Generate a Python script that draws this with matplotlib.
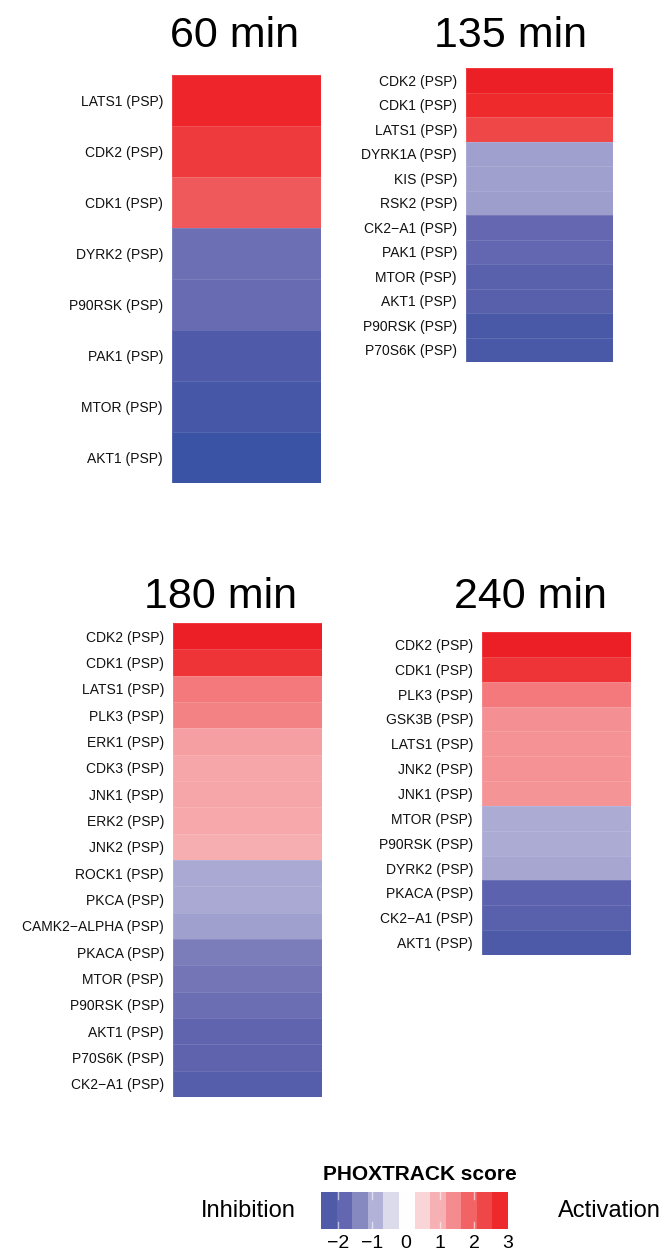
import numpy as np
import matplotlib
matplotlib.use("Agg")
import matplotlib.pyplot as plt
from matplotlib.colors import LinearSegmentedColormap, Normalize

plt.rcParams["font.family"] = ["Liberation Sans", "DejaVu Sans"]

# ---- data -------------------------------------------------------------
labels_60 = ["LATS1 (PSP)", "CDK2 (PSP)", "CDK1 (PSP)", "DYRK2 (PSP)",
             "P90RSK (PSP)", "PAK1 (PSP)", "MTOR (PSP)", "AKT1 (PSP)"]
scores_60 = [2.85, 2.5, 2.0, -1.68, -1.75, -2.27, -2.55, -2.85]

labels_135 = ["CDK2 (PSP)", "CDK1 (PSP)", "LATS1 (PSP)", "DYRK1A (PSP)",
              "KIS (PSP)", "RSK2 (PSP)", "CK2\u2212A1 (PSP)", "PAK1 (PSP)",
              "MTOR (PSP)", "AKT1 (PSP)", "P90RSK (PSP)", "P70S6K (PSP)"]
scores_135 = [2.95, 2.75, 2.3, -1.1, -1.1, -1.12, -1.8, -1.82,
              -2.05, -2.07, -2.4, -2.42]

labels_180 = ["CDK2 (PSP)", "CDK1 (PSP)", "LATS1 (PSP)", "PLK3 (PSP)",
              "ERK1 (PSP)", "CDK3 (PSP)", "JNK1 (PSP)", "ERK2 (PSP)",
              "JNK2 (PSP)", "ROCK1 (PSP)", "PKCA (PSP)",
              "CAMK2\u2212ALPHA (PSP)", "PKACA (PSP)", "MTOR (PSP)",
              "P90RSK (PSP)", "AKT1 (PSP)", "P70S6K (PSP)", "CK2\u2212A1 (PSP)"]
scores_180 = [2.95, 2.6, 1.6, 1.5, 1.15, 1.1, 1.08, 1.05, 0.98,
              -1.0, -1.0, -1.08, -1.5, -1.6, -1.7, -1.88, -1.9, -2.15]

labels_240 = ["CDK2 (PSP)", "CDK1 (PSP)", "PLK3 (PSP)", "GSK3B (PSP)",
              "LATS1 (PSP)", "JNK2 (PSP)", "JNK1 (PSP)", "MTOR (PSP)",
              "P90RSK (PSP)", "DYRK2 (PSP)", "PKACA (PSP)", "CK2\u2212A1 (PSP)",
              "AKT1 (PSP)"]
scores_240 = [2.95, 2.6, 1.6, 1.35, 1.33, 1.33, 1.3, -0.97, -0.98, -1.03,
              -1.97, -2.05, -2.35]

titles = ["60 min", "135 min", "180 min", "240 min"]
legend_ticks = [-2, -1, 0, 1, 2, 3]

# ---- colour scale -----------------------------------------------------
vmin, vmax = -3.0, 3.0
anchors = [(-3.0, "#3651a3"), (-2.27, "#4f5ba8"), (-1.81, "#6466b0"),
           (-1.35, "#8688c0"), (-0.9, "#b3b2d8"), (-0.44, "#dcdbec"),
           (0.0, "#ffffff"), (0.48, "#fad5d8"), (0.94, "#f7b1b4"),
           (1.4, "#f48c8f"), (1.85, "#f16466"), (2.31, "#ef4648"),
           (2.77, "#ee2a2d"), (3.0, "#ed1c24")]
cmap = LinearSegmentedColormap.from_list(
    "phox", [((v - vmin) / (vmax - vmin), c) for v, c in anchors])
norm = Normalize(vmin, vmax)

W, H = 663, 1255
fig = plt.figure(figsize=(W / 100, H / 100), dpi=100)


def px_axes(x0, y0, x1, y1):
    return fig.add_axes([x0 / W, 1 - y1 / H, (x1 - x0) / W, (y1 - y0) / H])


panels = [
    (labels_60, scores_60, (172, 75, 321, 483), (235, 47)),
    (labels_135, scores_135, (466, 68, 613, 362), (510, 47)),
    (labels_180, scores_180, (173, 623, 322, 1097), (220, 608)),
    (labels_240, scores_240, (482, 632, 631, 955), (530, 608)),
]

for (labels, scores, box, tpos), title in zip(panels, titles):
    ax = px_axes(*box)
    vals = np.array(scores).reshape(-1, 1)
    n = len(scores)
    ax.pcolormesh(np.arange(2), np.arange(n + 1), vals, cmap=cmap, norm=norm,
                  edgecolors=(1, 1, 1, 0.12), linewidth=0.6)
    ax.set_xlim(0, 1)
    ax.set_ylim(n, 0)
    ax.set_xticks([])
    ax.set_yticks(np.arange(n) + 0.5)
    ax.set_yticklabels(labels, fontsize=10, color="#111111")
    ax.tick_params(axis="y", length=0, pad=6.5)
    for s in ax.spines.values():
        s.set_visible(False)
    fig.text(tpos[0] / W, 1 - tpos[1] / H, title, fontsize=31,
             ha="center", va="baseline", color="black")

# ---- legend -----------------------------------------------------------
lax = px_axes(321, 1192, 508, 1229)
edges = np.linspace(-2.5, 3.0, 13)
centers = (edges[:-1] + edges[1:]) / 2
lax.pcolormesh(edges, [0, 1], centers.reshape(1, -1), cmap=cmap, norm=norm)
for t in [-2, -1, 1, 2]:
    lax.plot([t, t], [0, 0.2], color="white", lw=1, alpha=0.6)
    lax.plot([t, t], [0.8, 1], color="white", lw=1, alpha=0.6)
lax.set_xlim(edges[0], edges[-1])
lax.set_ylim(0, 1)
lax.set_yticks([])
lax.set_xticks(legend_ticks)
lax.set_xticklabels([f"{t}".replace("-", "\u2212") for t in legend_ticks],
                    fontsize=14)
lax.tick_params(axis="x", length=0, pad=4.5)
for s in lax.spines.values():
    s.set_visible(False)

fig.text(420 / W, 1 - 1175 / H, "PHOXTRACK score", fontsize=15,
         fontweight="bold", ha="center", va="center")
fig.text(248 / W, 1 - 1211 / H, "Inhibition", fontsize=17,
         ha="center", va="center")
fig.text(609 / W, 1 - 1211 / H, "Activation", fontsize=17,
         ha="center", va="center")

fig.savefig("out.png", dpi=100, facecolor="white")
